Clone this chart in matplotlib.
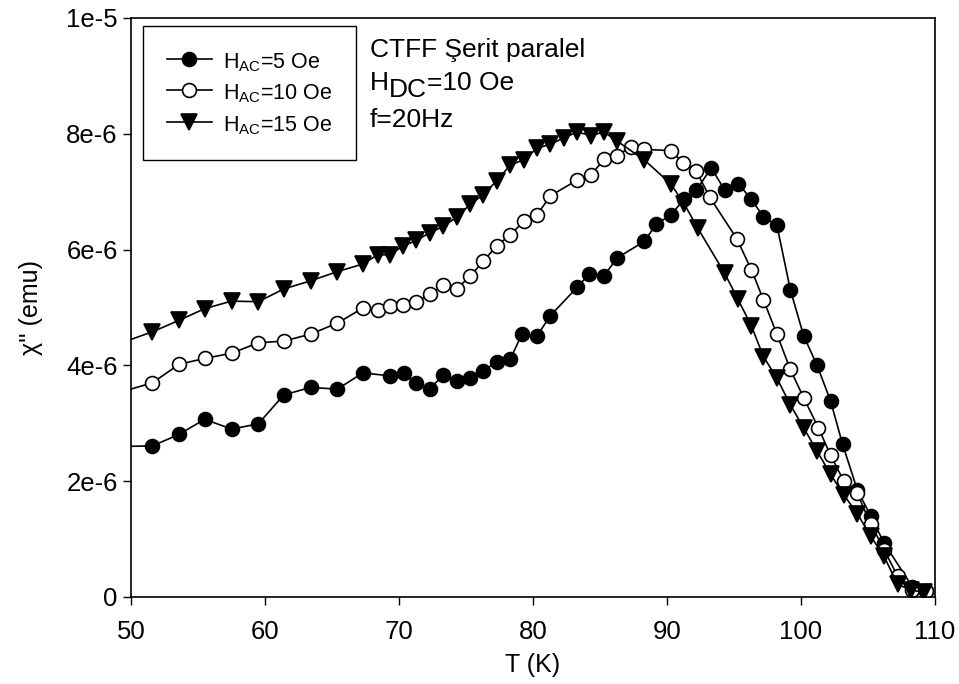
import matplotlib
matplotlib.use('Agg')
import matplotlib.pyplot as plt
from matplotlib.transforms import offset_copy

plt.rcParams['font.family'] = ['Liberation Sans', 'DejaVu Sans']
plt.rcParams['mathtext.fontset'] = 'custom'
plt.rcParams['mathtext.rm'] = 'Liberation Sans'
plt.rcParams['mathtext.it'] = 'Liberation Sans'

# H_AC = 5 Oe (filled circles), chi'' in units of 1e-6 emu
t_5 = [49.4, 51.6, 53.6, 55.5, 57.5, 59.5, 61.4, 63.4, 65.4, 67.3, 69.3, 70.4, 71.3,
       72.3, 73.3, 74.3, 75.3, 76.3, 77.3, 78.3, 79.2, 80.3, 81.3, 83.3, 84.2, 85.3,
       86.3, 88.3, 89.2, 90.3, 91.3, 92.2, 93.3, 94.3, 95.3, 96.3, 97.2, 98.2, 99.2,
       100.2, 101.2, 102.2, 103.1, 104.2, 105.2, 106.2, 108.3, 109.3]
chi_5 = [2.60, 2.61, 2.81, 3.07, 2.90, 2.99, 3.49, 3.62, 3.59, 3.87, 3.82, 3.86, 3.70,
         3.60, 3.83, 3.73, 3.78, 3.91, 4.06, 4.11, 4.55, 4.51, 4.86, 5.35, 5.58, 5.55,
         5.86, 6.14, 6.44, 6.60, 6.88, 7.03, 7.41, 7.03, 7.14, 6.87, 6.56, 6.42, 5.31,
         4.51, 4.00, 3.39, 2.64, 1.85, 1.40, 0.93, 0.18, 0.11]

# H_AC = 10 Oe (open circles)
t_10 = [49.4, 51.6, 53.6, 55.5, 57.5, 59.5, 61.4, 63.4, 65.4, 67.3, 68.4, 69.3, 70.3,
        71.3, 72.3, 73.3, 74.3, 75.3, 76.3, 77.3, 78.3, 79.3, 80.3, 81.3, 83.3, 84.3,
        85.3, 86.3, 87.3, 88.3, 90.3, 91.2, 92.2, 93.2, 95.2, 96.3, 97.2, 98.2, 99.2,
        100.2, 101.3, 102.2, 103.2, 104.2, 105.2, 106.2, 107.2, 108.3, 109.3]
chi_10 = [3.55, 3.70, 4.02, 4.12, 4.21, 4.39, 4.42, 4.54, 4.73, 4.99, 4.95, 5.03, 5.04,
          5.10, 5.23, 5.38, 5.32, 5.54, 5.80, 6.07, 6.25, 6.49, 6.60, 6.93, 7.20, 7.28,
          7.56, 7.62, 7.78, 7.73, 7.71, 7.50, 7.35, 6.90, 6.19, 5.65, 5.13, 4.54, 3.93,
          3.44, 2.92, 2.45, 2.00, 1.79, 1.26, 0.82, 0.36, 0.12, 0.11]

# H_AC = 15 Oe (down triangles)
t_15 = [49.4, 51.6, 53.6, 55.5, 57.5, 59.5, 61.4, 63.4, 65.4, 67.3, 68.4, 69.3, 70.3,
        71.3, 72.3, 73.3, 74.3, 75.3, 76.3, 77.3, 78.3, 79.3, 80.3, 81.3, 82.3, 83.3,
        84.3, 85.3, 86.3, 88.3, 90.3, 91.3, 92.3, 94.3, 95.3, 96.3, 97.2, 98.2, 99.2,
        100.2, 101.2, 102.2, 103.2, 104.2, 105.2, 106.2, 107.2, 108.2, 109.2]
chi_15 = [4.40, 4.58, 4.78, 4.98, 5.11, 5.10, 5.32, 5.46, 5.62, 5.75, 5.91, 5.91, 6.06,
          6.16, 6.29, 6.40, 6.56, 6.78, 6.95, 7.19, 7.46, 7.55, 7.75, 7.82, 7.93, 8.03,
          7.97, 8.03, 7.87, 7.55, 7.13, 6.78, 6.37, 5.59, 5.14, 4.68, 4.15, 3.78, 3.32,
          2.92, 2.52, 2.12, 1.76, 1.44, 1.05, 0.70, 0.22, 0.12, 0.08]

labels = [r'H$_{\mathregular{AC}}$=5 Oe', r'H$_{\mathregular{AC}}$=10 Oe',
          r'H$_{\mathregular{AC}}$=15 Oe']
y_ticks = [0, 2, 4, 6, 8, 10]
y_tick_labels = ['0', '2e-6', '4e-6', '6e-6', '8e-6', '1e-5']

fig = plt.figure(figsize=(9.59, 6.84), dpi=100)
ax = fig.add_axes([0.1366, 0.1272, 0.8384, 0.8465])

ms = 10
ax.plot(t_5, chi_5, '-o', color='black', lw=1.2, ms=ms, mfc='black', mec='black',
        mew=1.2, label=labels[0])
ax.plot(t_10, chi_10, '-o', color='black', lw=1.2, ms=ms, mfc='white', mec='black',
        mew=1.2, label=labels[1])
ax.plot(t_15, chi_15, '-v', color='black', lw=1.2, ms=ms + 1, mfc='black', mec='black',
        mew=1.2, label=labels[2])

ax.set_xlim(50, 110)
ax.set_ylim(0, 10)
ax.set_yticks(y_ticks)
ax.set_yticklabels(y_tick_labels)
ax.set_xticks(range(50, 111, 10))
ax.tick_params(direction='out', length=6, width=1, labelsize=18.5, top=False, right=False)
ax.tick_params(axis='x', pad=10.5)
for s in ax.spines.values():
    s.set_linewidth(1.2)

ax.set_xlabel('T (K)', fontsize=18, labelpad=6.5)
ax.set_ylabel("χ'' (emu)", fontsize=18, labelpad=17)

leg = ax.legend(loc='upper left', bbox_to_anchor=(0.015, 0.986), borderaxespad=0,
                fontsize=15.5, handlelength=2.1, handletextpad=0.5, labelspacing=0.35,
                handleheight=1.2, borderpad=1.1, fancybox=False, framealpha=1,
                edgecolor='black')
leg.get_frame().set_linewidth(1.0)

# annotation block, H_DC with a full-size lowered subscript
fs = 19
x0 = 0.297
ax.text(x0, 0.933, 'CTFF Şerit paralel', transform=ax.transAxes, fontsize=fs,
        va='baseline')
h_txt = ax.text(x0, 0.876, 'H', transform=ax.transAxes, fontsize=fs, va='baseline')
renderer = fig.canvas.get_renderer()
h_w = h_txt.get_window_extent(renderer).width * 72 / fig.dpi
dc_tr = offset_copy(ax.transAxes, fig=fig, x=h_w, y=-5.5, units='points')
dc_txt = ax.text(x0, 0.876, 'DC', transform=dc_tr, fontsize=fs, va='baseline')
dc_w = dc_txt.get_window_extent(renderer).width * 72 / fig.dpi
eq_tr = offset_copy(ax.transAxes, fig=fig, x=h_w + dc_w, y=0, units='points')
ax.text(x0, 0.876, '=10 Oe', transform=eq_tr, fontsize=fs, va='baseline')
ax.text(x0, 0.812, 'f=20Hz', transform=ax.transAxes, fontsize=fs, va='baseline')

fig.savefig('out.png', dpi=100)
